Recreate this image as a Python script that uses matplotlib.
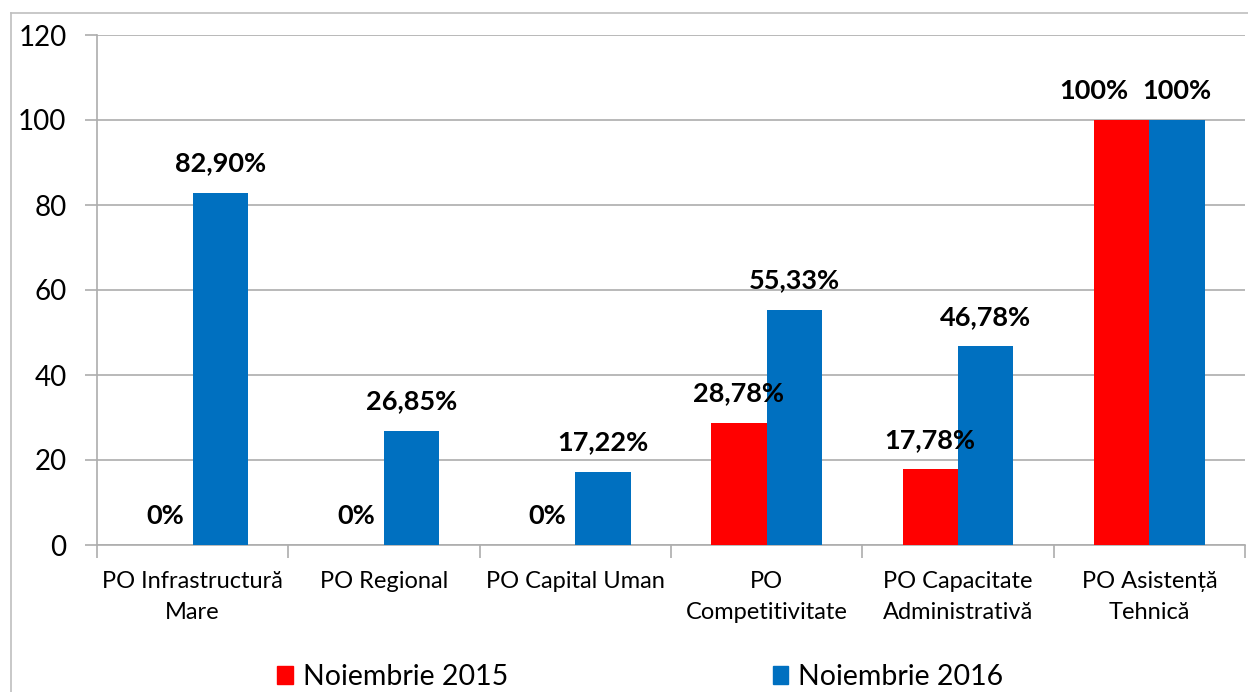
import matplotlib.pyplot as plt
from matplotlib.patches import Patch
from matplotlib.lines import Line2D
import numpy as np

categories = ["PO Infrastructură\nMare", "PO Regional", "PO Capital Uman",
              "PO\nCompetitivitate", "PO Capacitate\nAdministrativă",
              "PO Asistență\nTehnică"]
nov_2015 = [0, 0, 0, 28.78, 17.78, 100]
nov_2016 = [82.90, 26.85, 17.22, 55.33, 46.78, 100]
labels_2015 = ["0%", "0%", "0%", "28,78%", "17,78%", "100%"]
labels_2016 = ["82,90%", "26,85%", "17,22%", "55,33%", "46,78%", "100%"]
series_names = ["Noiembrie 2015", "Noiembrie 2016"]

red = "#FF0000"
blue = "#0070C0"
grid_col = "#ADADAD"

plt.rcParams['font.family'] = ['Lato', 'DejaVu Sans']

fig = plt.figure(figsize=(12.48, 6.92), dpi=100)
ax = fig.add_axes([97/1248, 1-545/692, (1245-97)/1248, (545-35)/692])

x = np.arange(len(categories))
w = 0.29
b1 = ax.bar(x - w/2, nov_2015, w, color=red, zorder=3)
b2 = ax.bar(x + w/2, nov_2016, w, color=blue, zorder=3)

for bars, labs, shift in ((b1, labels_2015, -1), (b2, labels_2016, 0)):
    for i, (rect, lab) in enumerate(zip(bars, labs)):
        # the two 100% labels would collide, so the red one moves left
        dx = 20 * shift if i == len(labs) - 1 else 0
        ax.annotate(lab, (rect.get_x() + rect.get_width()/2, rect.get_height()),
                    xytext=(dx, 12.5), textcoords="offset points",
                    ha="center", va="bottom", fontsize=19.5, fontweight="bold")

ax.set_xlim(-0.5, len(categories) - 0.5)
ax.set_ylim(0, 120)
ax.set_yticks(range(0, 121, 20))
ax.yaxis.grid(True, color=grid_col, linewidth=1.2, zorder=0)
ax.set_axisbelow(True)

ax.set_xticks(np.arange(len(categories) + 1) - 0.5)
ax.set_xticklabels([])
ax.set_xticks(x, minor=True)
ax.set_xticklabels(categories, minor=True, fontsize=17, linespacing=1.55)
ax.tick_params(axis="x", which="minor", length=0, pad=19)
ax.tick_params(axis="x", which="major", length=9, color=grid_col, width=1.2)
ax.tick_params(axis="y", length=9, color=grid_col, width=1.2, labelsize=20, pad=13)

for s in ("top", "right"):
    ax.spines[s].set_visible(False)
for s in ("left", "bottom"):
    ax.spines[s].set_color(grid_col)
    ax.spines[s].set_linewidth(1.2)

handles = [Patch(color=red), Patch(color=blue)]
fig.legend(handles, series_names, loc="center", bbox_to_anchor=(0.513, 0.022),
           ncol=2, frameon=False, fontsize=20.5, handlelength=0.55, handleheight=0.6,
           handletextpad=0.35, columnspacing=9.3, borderpad=0)

# outer chart border
fig.add_artist(Line2D([11/1248, 11/1248], [0, 1-13/692], color="#BFBFBF", linewidth=1.2))
fig.add_artist(Line2D([11/1248, 1], [1-13/692, 1-13/692], color="#BFBFBF", linewidth=1.2))

fig.savefig("out.png", dpi=100)
